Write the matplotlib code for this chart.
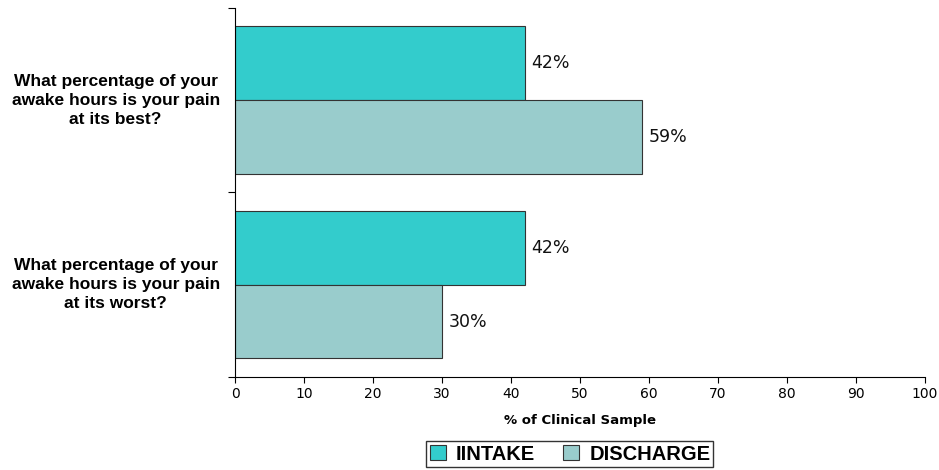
import numpy as np
import matplotlib.pyplot as plt

# Data
questions = ['What percentage of your\nawake hours is your pain\nat its best?',
             'What percentage of your\nawake hours is your pain\nat its worst?']
intake = [42, 42]
discharge = [59, 30]
series_names = ['IINTAKE', 'DISCHARGE']

plt.rcParams['font.family'] = ['Liberation Sans', 'DejaVu Sans']

fig = plt.figure(figsize=(9.39, 4.70), dpi=100)
ax = fig.add_axes([0.2503, 0.198, 0.7347, 0.785])

y = np.arange(len(questions))
h = 0.4
b1 = ax.barh(y - h / 2, intake, height=h, color='#33CCCC', edgecolor='#333333', linewidth=0.8, label=series_names[0])
b2 = ax.barh(y + h / 2, discharge, height=h, color='#99CCCC', edgecolor='#333333', linewidth=0.8, label=series_names[1])

for bars, vals in [(b1, intake), (b2, discharge)]:
    for bar, v in zip(bars, vals):
        ax.text(v + 0.9, bar.get_y() + bar.get_height() / 2, f'{v}%',
                va='center', ha='left', fontsize=12.5, family='DejaVu Sans', color='#111111')

ax.set_ylim(1.5, -0.5)
ax.set_yticks([-0.5, 0.5, 1.5])
ax.set_yticklabels([])
for yi, q in zip(y, questions):
    ax.text(-17.3, yi, q, ha='center', va='center', fontsize=12.5, fontweight='bold',
            linespacing=1.35)

ax.set_xlim(0, 100)
ax.set_xticks(range(0, 101, 10))
ax.tick_params(axis='x', labelsize=10, length=4)
ax.tick_params(axis='y', length=5)
for lbl in ax.get_xticklabels():
    lbl.set_family('DejaVu Sans')
ax.set_xlabel('% of Clinical Sample', fontsize=9.5, fontweight='bold', family='DejaVu Sans', labelpad=9)

ax.spines['top'].set_visible(False)
ax.spines['right'].set_visible(False)

leg = fig.legend(loc='center', bbox_to_anchor=(0.607, 0.034), ncol=2, fancybox=False,
                 edgecolor='#333333', prop={'weight': 'bold', 'size': 14.5},
                 handlelength=0.8, handleheight=0.8, handletextpad=0.5, columnspacing=1.4,
                 borderpad=0.15, borderaxespad=0, framealpha=1)
leg.get_frame().set_linewidth(1.0)

fig.savefig('out.png', dpi=100)
